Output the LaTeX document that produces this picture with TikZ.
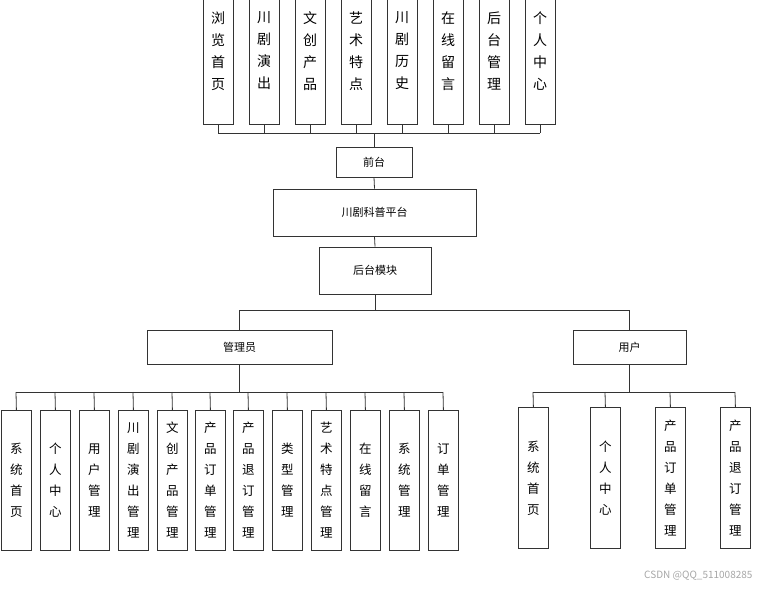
\documentclass[tikz,border=0pt]{standalone}
\usepackage{fontspec}
\setmainfont{Noto Sans CJK SC}
\begin{document}
\begin{tikzpicture}[x=1pt,y=-1pt,
  box/.style={draw=black!80,line width=0.8pt,fill=white,inner sep=0pt},
  vt/.style={font=\fontsize{14}{22}\selectfont,align=center},
  ht/.style={font=\fontsize{11}{13}\selectfont},
  ln/.style={draw=black!80,line width=0.8pt}]
\useasboundingbox (0,0) rectangle (770,589);
% top boxes
\foreach \x/\t [count=\i] in {203/{浏\\览\\首\\页},249/{川\\剧\\演\\出},295/{文\\创\\产\\品},341/{艺\\术\\特\\点},387/{川\\剧\\历\\史},433/{在\\线\\留\\言},479/{后\\台\\管\\理},525/{个\\人\\中\\心}}{
  \draw[box] (\x,-2) rectangle ++(30,126);
  \node[vt,anchor=north] (t\i) at (\x+15,8) {\t};
  \draw[ln] (\x+15,124) -- (\x+15,133);
}
\draw[ln] (218,133) -- (540,133);
\node[box,minimum width=76pt,minimum height=30pt,ht] (qt) at (374,162) {前台};
\draw[ln] (374,133) -- (qt.north);
\node[box,minimum width=203pt,minimum height=47pt,ht] (pt) at (374.5,212.5) {川剧科普平台};
\draw[ln] (qt.south) -- (pt.north);
\node[box,minimum width=112pt,minimum height=47pt,ht] (hm) at (375,270.5) {后台模块};
\draw[ln] (pt.south) -- (hm.north);
\node[box,minimum width=185pt,minimum height=34pt,ht] (gl) at (239.5,347) {管理员};
\node[box,minimum width=113pt,minimum height=34pt,ht] (yh) at (629.5,347) {用户};
\draw[ln] (hm.south) -- (375,310);
\draw[ln] (239.5,310) -- (629.5,310);
\draw[ln] (239.5,310) -- (gl.north);
\draw[ln] (629.5,310) -- (yh.north);
% admin boxes
\draw[ln] (gl.south) -- (239.5,392);
\draw[ln] (16,392) -- (443,392);
\foreach \x/\t [count=\i] in {1/{系\\统\\首\\页},40/{个\\人\\中\\心},79/{用\\户\\管\\理},118/{川\\剧\\演\\出\\管\\理},157/{文\\创\\产\\品\\管\\理},195/{产\\品\\订\\单\\管\\理},233/{产\\品\\退\\订\\管\\理},272/{类\\型\\管\\理},311/{艺\\术\\特\\点\\管\\理},350/{在\\线\\留\\言},389/{系\\统\\管\\理},428/{订\\单\\管\\理}}{
  \node[box,minimum width=30pt,minimum height=140pt,anchor=north west] (a\i) at (\x,410) {};
  \node[vt,font=\fontsize{12.5}{21}\selectfont] at (a\i.center) {\t};
  \draw[ln] (a\i.north) -- (\x+15,392);
}
% user boxes
\draw[ln] (yh.south) -- (629.5,392);
\draw[ln] (533,392) -- (735,392);
\foreach \x/\t [count=\i] in {518/{系\\统\\首\\页},590/{个\\人\\中\\心},655/{产\\品\\订\\单\\管\\理},720/{产\\品\\退\\订\\管\\理}}{
  \node[box,minimum width=30pt,minimum height=141pt,anchor=north west] (u\i) at (\x,407) {};
  \node[vt,font=\fontsize{12.5}{21}\selectfont] at (u\i.center) {\t};
  \draw[ln] (u\i.north) -- (\x+15,392);
}
\node[text=black!35,font=\fontsize{10}{12}\selectfont,anchor=east] (wm) at (756,576) {CSDN @QQ\_511008285};
\end{tikzpicture}
\end{document}
